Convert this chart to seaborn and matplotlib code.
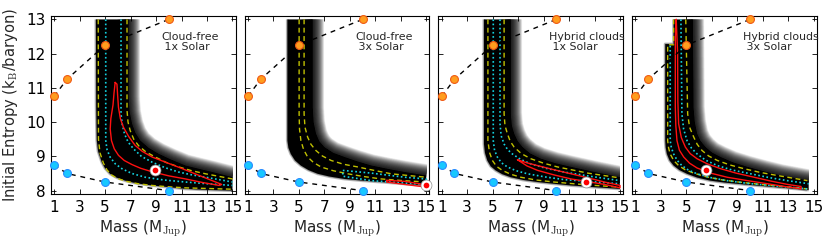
import numpy as np
import matplotlib
matplotlib.use("Agg")
import matplotlib.pyplot as plt
import matplotlib.patheffects as pe
from matplotlib.patches import Rectangle
import seaborn as sns

# hot-start (orange) and cold-start (cyan) tracks, same in every panel
track_mass = [1, 2, 5, 10]
hot_entropy = [10.75, 11.25, 12.25, 13.0]
cold_entropy = [8.75, 8.5, 8.25, 8.0]

panel_labels = ["Cloud-free\n 1x Solar", "Cloud-free\n 3x Solar",
                "Hybrid clouds\n 1x Solar", "Hybrid clouds\n 3x Solar"]

# ---- Cloud-free 1x Solar (points are (mass, entropy)) ----
cf1_inner = [(4.28, 13.0), (4.3, 10.5), (4.35, 9.46), (4.45, 9.15), (4.74, 8.83), (5.0, 8.65),
             (5.39, 8.49), (5.9, 8.38), (6.58, 8.29), (7.5, 8.21), (8.69, 8.15), (10.0, 8.1),
             (11.31, 8.05), (13.0, 8.02), (15.0, 8.0)]
cf1_outer = [(6.84, 13.0), (6.84, 10.73), (6.92, 10.3), (7.11, 9.95), (7.38, 9.68), (7.76, 9.46),
             (8.4, 9.25), (9.21, 9.07), (10.2, 8.9), (11.31, 8.73), (12.4, 8.63), (13.42, 8.54),
             (15.0, 8.39)]
cf1_yel_a = [(4.46, 13.0), (4.48, 9.5), (4.6, 9.1), (4.87, 8.8), (5.15, 8.6), (5.54, 8.45),
             (6.0, 8.35), (6.67, 8.27), (7.6, 8.2), (8.7, 8.15), (10.0, 8.11), (11.3, 8.08),
             (15.0, 8.04)]
cf1_yel_b = [(6.72, 13.0), (6.72, 10.34), (6.8, 10.0), (6.97, 9.75), (7.25, 9.5), (7.63, 9.31),
             (8.2, 9.13), (8.94, 8.98), (9.8, 8.82), (10.79, 8.69), (11.8, 8.58), (12.89, 8.49),
             (15.0, 8.34)]
cf1_cyan_a = [(5.05, 13.0), (5.05, 9.46), (5.15, 9.2), (5.39, 8.98), (5.8, 8.78), (6.32, 8.64),
              (7.1, 8.5), (8.15, 8.39), (9.6, 8.31), (11.31, 8.25), (13.0, 8.2), (15.0, 8.15)]
cf1_cyan_b = [(6.25, 13.0), (6.25, 10.24), (6.35, 9.92), (6.52, 9.66), (6.8, 9.42), (7.23, 9.22),
              (7.85, 9.0), (8.69, 8.83), (9.7, 8.67), (10.79, 8.54), (11.8, 8.46), (12.89, 8.39),
              (15.0, 8.25)]
cf1_red = [(5.79, 11.16), (5.7, 10.85), (5.62, 10.5), (5.45, 10.1), (5.4, 9.8), (5.5, 9.46),
           (5.72, 9.22), (6.05, 9.03), (6.5, 8.88), (7.11, 8.76), (7.8, 8.65), (8.69, 8.55),
           (10.0, 8.43), (11.31, 8.34), (12.6, 8.24), (13.95, 8.15), (14.15, 8.18), (13.68, 8.25),
           (12.2, 8.47), (10.79, 8.68), (9.6, 8.85), (8.69, 8.98), (7.9, 9.15), (7.36, 9.32),
           (6.85, 9.58), (6.44, 9.85), (6.2, 10.1), (6.05, 10.43), (5.98, 10.8), (5.93, 11.11),
           (5.79, 11.16)]
cf1_best = (8.95, 8.6)

# ---- Cloud-free 3x Solar ----
cf3_inner = [(4.1, 13.0), (4.1, 9.46), (4.18, 9.25), (4.37, 9.07), (4.7, 8.88), (5.16, 8.73),
             (5.75, 8.6), (6.48, 8.49), (7.4, 8.41), (8.57, 8.34), (10.0, 8.29), (11.47, 8.25),
             (13.2, 8.2), (15.0, 8.15)]
cf3_outer = [(6.08, 13.0), (6.08, 10.43), (6.15, 10.0), (6.34, 9.66), (6.6, 9.44), (6.99, 9.27),
             (7.7, 9.1), (8.57, 8.98), (9.6, 8.85), (10.69, 8.73), (12.0, 8.63), (13.31, 8.54),
             (15.0, 8.44)]
cf3_yel_a = [(5.02, 13.0), (5.02, 10.24), (5.05, 9.8), (5.16, 9.46), (5.37, 9.2), (5.69, 8.98),
             (6.15, 8.82), (6.74, 8.69), (7.7, 8.58), (8.84, 8.49), (10.1, 8.41), (11.47, 8.34),
             (13.2, 8.29), (15.0, 8.25)]
cf3_yel_b = [(5.41, 13.0), (5.41, 10.24), (5.48, 9.85), (5.69, 9.56), (5.95, 9.35), (6.34, 9.17),
             (6.85, 9.01), (7.53, 8.88), (8.5, 8.77), (9.63, 8.69), (10.9, 8.59), (12.26, 8.49),
             (13.6, 8.44), (15.0, 8.39)]
cf3_cyan = [(8.45, 8.59), (10.69, 8.51), (13.31, 8.39), (15.0, 8.34), (15.0, 8.18),
            (13.31, 8.22), (10.69, 8.29), (8.45, 8.42), (8.45, 8.59)]
cf3_red = [(11.9, 8.3), (13.3, 8.27), (14.6, 8.19), (14.6, 8.12), (13.3, 8.18),
           (11.9, 8.25), (11.9, 8.3)]
cf3_best = (14.95, 8.15)

# ---- Hybrid clouds 1x Solar ----
hc1_inner = [(4.32, 13.0), (4.32, 9.36), (4.4, 9.1), (4.58, 8.88), (4.85, 8.71), (5.24, 8.59),
             (5.75, 8.48), (6.42, 8.39), (7.4, 8.31), (8.53, 8.25), (9.8, 8.2), (11.16, 8.15),
             (13.0, 8.1), (15.0, 8.05)]
hc1_outer = [(6.42, 13.0), (6.42, 10.24), (6.5, 9.9), (6.69, 9.66), (6.95, 9.45), (7.34, 9.27),
             (7.95, 9.08), (8.79, 8.93), (9.9, 8.8), (11.16, 8.69), (13.0, 8.54), (15.0, 8.39)]
hc1_yel_a = [(4.63, 13.0), (4.63, 9.46), (4.75, 9.12), (4.98, 8.88), (5.3, 8.71), (5.76, 8.59),
             (6.4, 8.48), (7.21, 8.39), (8.4, 8.31), (9.83, 8.25), (12.3, 8.17), (15.0, 8.1)]
hc1_yel_b = [(5.9, 13.0), (5.9, 10.24), (5.97, 9.9), (6.16, 9.66), (6.38, 9.44), (6.69, 9.27),
             (7.25, 9.08), (8.0, 8.93), (9.0, 8.8), (10.1, 8.69), (11.3, 8.6), (12.47, 8.51),
             (15.0, 8.37)]
hc1_cyan_a = [(5.05, 13.0), (5.05, 9.46), (5.15, 9.18), (5.37, 8.98), (5.7, 8.81), (6.16, 8.69),
              (6.85, 8.58), (7.74, 8.49), (9.1, 8.4), (10.63, 8.32), (12.8, 8.26), (15.0, 8.2)]
hc1_cyan_b = [(5.58, 13.0), (5.58, 9.95), (5.67, 9.6), (5.9, 9.36), (6.17, 9.2), (6.55, 9.07),
              (7.2, 8.91), (8.0, 8.78), (9.2, 8.65), (10.63, 8.54), (12.8, 8.41), (15.0, 8.29)]
hc1_red = [(6.95, 8.9), (7.7, 8.81), (8.53, 8.73), (9.8, 8.61), (11.16, 8.49), (12.5, 8.37),
           (13.78, 8.25), (15.0, 8.15), (15.0, 8.08), (13.78, 8.18), (12.5, 8.26), (11.16, 8.34),
           (9.8, 8.46), (8.53, 8.59), (7.7, 8.72), (6.95, 8.9)]
hc1_best = (12.34, 8.25)

# ---- Hybrid clouds 3x Solar ----
hc3_inner = [(4.0, 13.0), (4.0, 12.28), (3.34, 12.28), (3.34, 9.46), (3.38, 9.25), (3.47, 9.07),
             (3.68, 8.88), (4.0, 8.73), (4.45, 8.6), (5.05, 8.49), (5.85, 8.38), (6.89, 8.29),
             (8.1, 8.23), (9.52, 8.18), (12.0, 8.1), (14.6, 8.02)]
hc3_outer = [(5.5, 13.0), (5.55, 10.43), (5.65, 10.0), (5.84, 9.66), (6.1, 9.45), (6.5, 9.27),
             (7.0, 9.11), (7.68, 8.98), (8.6, 8.83), (9.8, 8.69), (11.1, 8.56), (12.42, 8.44),
             (14.6, 8.29)]
hc3_yel_a = [(4.0, 13.0), (4.0, 12.26), (3.53, 12.26), (3.53, 9.46), (3.6, 9.25), (3.73, 9.07),
             (4.0, 8.88), (4.39, 8.73), (4.9, 8.61), (5.58, 8.51), (6.5, 8.41), (7.68, 8.32),
             (9.1, 8.25), (10.84, 8.18), (14.5, 8.05)]
hc3_yel_b = [(4.95, 13.0), (5.1, 10.24), (5.25, 9.85), (5.58, 9.56), (5.85, 9.35), (6.23, 9.17),
             (6.75, 9.01), (7.43, 8.88), (8.4, 8.75), (9.52, 8.64), (10.8, 8.53), (12.15, 8.44),
             (14.5, 8.29)]
hc3_cyan_a = [(3.73, 12.23), (3.73, 9.46), (3.82, 9.25), (4.0, 9.07), (4.28, 8.88), (4.65, 8.73),
              (5.15, 8.6), (5.84, 8.49), (6.9, 8.38), (8.2, 8.29), (9.8, 8.21), (11.63, 8.15),
              (14.5, 8.05)]
hc3_cyan_b = [(4.57, 13.0), (4.65, 10.24), (4.78, 9.8), (5.05, 9.46), (5.4, 9.24), (5.84, 9.07),
              (6.5, 8.89), (7.43, 8.73), (8.6, 8.6), (10.05, 8.49), (11.5, 8.38), (12.94, 8.29),
              (14.6, 8.2)]
hc3_red = [(4.2, 13.0), (4.13, 12.5), (4.13, 10.43), (4.17, 9.9), (4.26, 9.46), (4.45, 9.18),
           (4.79, 8.98), (5.25, 8.8), (5.84, 8.66), (6.9, 8.51), (8.2, 8.39), (9.8, 8.29),
           (11.37, 8.2), (12.7, 8.12), (14.0, 8.05), (14.0, 8.12), (12.94, 8.18), (11.6, 8.28),
           (10.31, 8.39), (8.9, 8.51), (7.68, 8.64), (6.65, 8.78), (5.84, 8.93), (5.3, 9.08),
           (4.92, 9.27), (4.6, 9.55), (4.39, 9.95), (4.33, 10.6), (4.31, 12.04), (4.2, 13.0)]
hc3_best = (6.56, 8.59)

panels = [
    dict(inner=cf1_inner, outer=cf1_outer, yellow=[cf1_yel_a, cf1_yel_b],
         cyan=[cf1_cyan_a, cf1_cyan_b], red=[cf1_red], best=cf1_best, end=15.0),
    dict(inner=cf3_inner, outer=cf3_outer, yellow=[cf3_yel_a, cf3_yel_b],
         cyan=[cf3_cyan], red=[cf3_red], best=cf3_best, end=15.0),
    dict(inner=hc1_inner, outer=hc1_outer, yellow=[hc1_yel_a, hc1_yel_b],
         cyan=[hc1_cyan_a, hc1_cyan_b], red=[hc1_red], best=hc1_best, end=15.0),
    dict(inner=hc3_inner, outer=hc3_outer, yellow=[hc3_yel_a, hc3_yel_b],
         cyan=[hc3_cyan_a, hc3_cyan_b], red=[hc3_red], best=hc3_best, end=14.6),
]


def xy(points):
    a = np.asarray(points, dtype=float)
    return a[:, 0], a[:, 1]


def trace(ax, points, **kw):
    m, s = xy(points)
    sns.lineplot(x=m, y=s, sort=False, estimator=None, ax=ax, **kw)


def draw_band(ax, inner, outer, m_end):
    im, ins = xy(inner)
    om, ous = xy(outer)
    clip = Rectangle((0.75, 7.0), m_end - 0.75 + 0.02, 6.0, transform=ax.transData)
    poly = ax.fill(np.r_[im, om[::-1]], np.r_[ins, ous[::-1]], color="k", lw=0, zorder=1)[0]
    poly.set_clip_path(clip)
    # blurred outer edge, built from many faint strokes
    halo = [pe.Stroke(linewidth=w, foreground="k", alpha=0.05, joinstyle="round", capstyle="butt")
            for w in np.linspace(1.0, 16.5, 36)]
    ln, = ax.plot(om, ous, color="k", lw=1, zorder=1, path_effects=halo)
    ln.set_clip_path(clip)
    # slightly soft inner edge
    soft = [pe.Stroke(linewidth=w, foreground="k", alpha=0.25, joinstyle="round", capstyle="butt")
            for w in (1.0, 2.2)]
    ln2, = ax.plot(im, ins, color="k", lw=1, zorder=1, path_effects=soft)
    ln2.set_clip_path(clip)


sns.set_style("ticks")
plt.rcParams["font.family"] = ["DejaVu Sans"]
plt.rcParams["mathtext.fontset"] = "cm"

fig, axes = plt.subplots(1, 4, figsize=(8.3, 2.43), dpi=100, sharey=True)
fig.subplots_adjust(left=0.0614, right=0.9843, bottom=0.2016, top=0.9342, wspace=0.049)

for ax, p, label in zip(axes, panels, panel_labels):
    draw_band(ax, p["inner"], p["outer"], p["end"])
    for pts in p["yellow"]:
        trace(ax, pts, color="#c0c000", lw=1.0, linestyle=(0, (3.5, 2.5)), zorder=3)
    for pts in p["cyan"]:
        trace(ax, pts, color="#14d2e0", lw=1.2, linestyle=(0, (1, 1.5)), zorder=3)
    for pts in p["red"]:
        trace(ax, pts, color="#ff1010", lw=1.0, zorder=4)

    # hot / cold start tracks
    sns.lineplot(x=track_mass, y=hot_entropy, color="k", lw=1.0, linestyle=(0, (3.5, 3.5)),
                 sort=False, estimator=None, ax=ax, zorder=5)
    sns.lineplot(x=track_mass, y=cold_entropy, color="k", lw=1.0, linestyle=(0, (3.5, 3.5)),
                 sort=False, estimator=None, ax=ax, zorder=5)
    sns.scatterplot(x=track_mass, y=hot_entropy, s=32, color="#ff9d1e", edgecolor="#f05a14",
                    linewidth=0.8, ax=ax, zorder=6, clip_on=False)
    sns.scatterplot(x=track_mass, y=cold_entropy, s=32, color="#18c8ff", edgecolor="#2a8cff",
                    linewidth=0.8, ax=ax, zorder=6, clip_on=False)

    # best-fit marker
    sns.scatterplot(x=[p["best"][0]], y=[p["best"][1]], s=62, color="white", edgecolor="0.55",
                    linewidth=0.5, ax=ax, zorder=7, clip_on=False)
    sns.scatterplot(x=[p["best"][0]], y=[p["best"][1]], s=17, color="#ff0000", linewidth=0,
                    ax=ax, zorder=8, clip_on=False)

    ax.text(9.42, 12.64, label, fontsize=7.9, ha="left", va="top", linespacing=1.05, zorder=9)

    ax.set_xlim(0.75, 15.25)
    ax.set_ylim(7.9, 13.1)
    ax.set_xticks(range(1, 16, 2))
    ax.set_yticks(range(8, 14))
    ax.tick_params(direction="in", top=True, right=True, length=3.5, width=0.6,
                   labelsize=11, pad=4, colors="k")
    for sp in ax.spines.values():
        sp.set_linewidth(0.8)
        sp.set_color("k")
    ax.set_xlabel(r"Mass (M$_\mathrm{Jup}$)", fontsize=11, labelpad=3)
    ax.set_ylabel("")

axes[0].set_ylabel(r"Initial Entropy (k$_\mathrm{B}$/baryon)", fontsize=10.6, labelpad=4)
for ax in axes[1:]:
    ax.tick_params(labelleft=False)

fig.savefig("out.png", dpi=100)
